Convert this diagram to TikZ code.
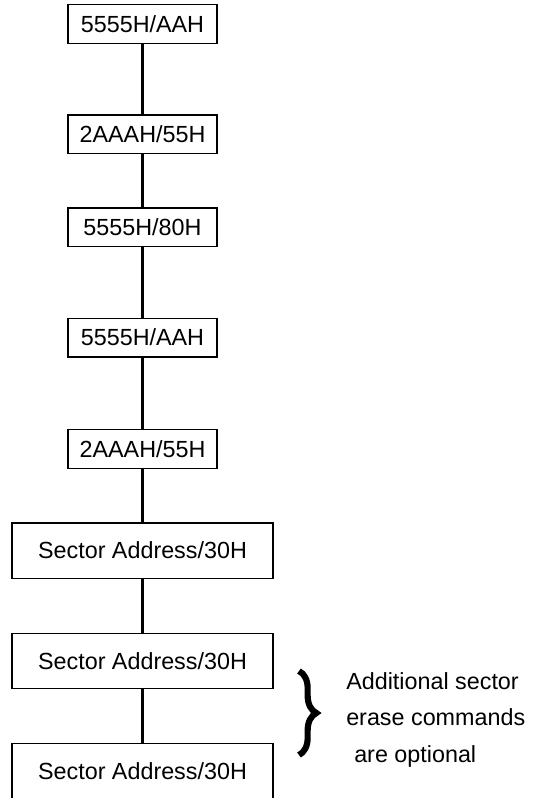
\documentclass[tikz,border=0pt]{standalone}
\usepackage{fontspec}
\setmainfont{Liberation Sans}
\usetikzlibrary{decorations.pathreplacing}

\begin{document}
\begin{tikzpicture}[x=0.75pt,y=-0.75pt]
\tikzstyle{every node}+=[inner sep=0pt,font=\fontsize{17.5}{20}\selectfont]
\tikzstyle{cmd}=[draw,black,line width=1.1pt,minimum width=111.75pt,minimum height=28.9pt]
\tikzstyle{sector}=[draw,black,line width=1.1pt,minimum width=195.75pt,minimum height=41.6pt]
\tikzstyle{link}=[black,line width=2.3pt]
\useasboundingbox (0,0) rectangle (533,798);
\node [cmd] (b1) at (142.5,24) {5555H/AAH};
\node [cmd] (b2) at (142.5,134.5) {2AAAH/55H};
\node [cmd] (b3) at (142.5,227.5) {5555H/80H};
\node [cmd] (b4) at (142.5,337.5) {5555H/AAH};
\node [cmd] (b5) at (142.5,449) {2AAAH/55H};
\node [sector] (s1) at (142.5,550.5) {Sector Address/30H};
\node [sector] (s2) at (142.5,661) {Sector Address/30H};
\node [sector] (s3) at (142.5,771) {Sector Address/30H};
\draw [link] (b1) -- (b2);
\draw [link] (b2) -- (b3);
\draw [link] (b3) -- (b4);
\draw [link] (b4) -- (b5);
\draw [link] (b5) -- (s1);
\draw [link] (s1) -- (s2);
\draw [link] (s2) -- (s3);
% brace over the optional commands
\coordinate (bt) at (299,671);
\coordinate (bb) at (299,755);
\draw [black,line width=4.6pt,decorate,decoration={brace,amplitude=13pt}] (bt) -- (bb);
\node [anchor=base west] (n1) at (346,689) {Additional sector};
\node [anchor=base west] (n2) at (346,725) {erase commands};
\node [anchor=base west] (n3) at (354,762) {are optional};
\end{tikzpicture}
\end{document}
